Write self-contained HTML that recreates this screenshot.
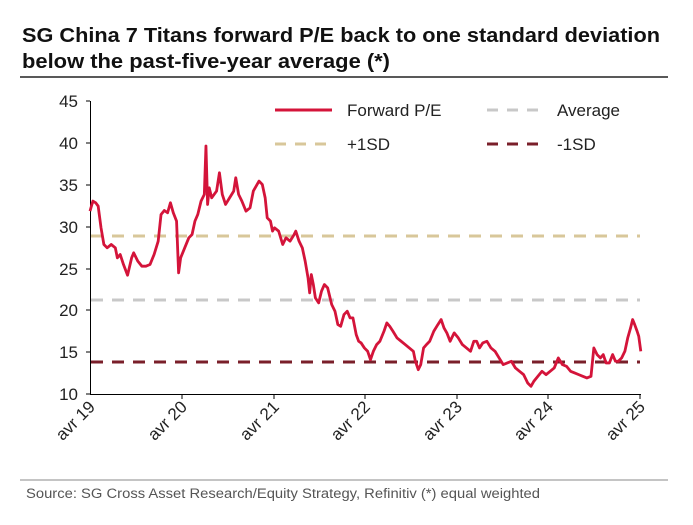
<!DOCTYPE html>
<html><head><meta charset="utf-8"><style>
body{margin:0;background:#fff;width:693px;height:520px;overflow:hidden;font-family:"Liberation Sans",sans-serif}
</style></head><body>
<svg width="693" height="520" xmlns="http://www.w3.org/2000/svg" font-family="Liberation Sans, sans-serif">
<text x="22" y="42" font-size="20" font-weight="bold" fill="#111" textLength="638" lengthAdjust="spacingAndGlyphs">SG China 7 Titans forward P/E back to one standard deviation</text>
<text x="22" y="68" font-size="20" font-weight="bold" fill="#111" textLength="368" lengthAdjust="spacingAndGlyphs">below the past-five-year average (*)</text>
<line x1="20" y1="77" x2="668" y2="77" stroke="#222" stroke-width="1.5"/>
<g stroke-width="3" stroke-dasharray="12,9">
<line x1="91" y1="236" x2="640" y2="236" stroke="#d8c79a"/>
<line x1="91" y1="300" x2="640" y2="300" stroke="#c8c8c8"/>
<line x1="91" y1="362" x2="640" y2="362" stroke="#7a1f2a"/>
</g>
<g stroke="#000" stroke-width="1">
<line x1="90.5" y1="101" x2="90.5" y2="394"/>
<line x1="90" y1="394.5" x2="641" y2="394.5"/>
<line x1="86" y1="101" x2="90" y2="101"/><line x1="86" y1="143" x2="90" y2="143"/><line x1="86" y1="185" x2="90" y2="185"/><line x1="86" y1="227" x2="90" y2="227"/><line x1="86" y1="269" x2="90" y2="269"/><line x1="86" y1="310" x2="90" y2="310"/><line x1="86" y1="352" x2="90" y2="352"/><line x1="86" y1="394" x2="90" y2="394"/>
<line x1="182" y1="394" x2="182" y2="399"/><line x1="274" y1="394" x2="274" y2="399"/><line x1="365" y1="394" x2="365" y2="399"/><line x1="457" y1="394" x2="457" y2="399"/><line x1="548" y1="394" x2="548" y2="399"/><line x1="640" y1="394" x2="640" y2="399"/>
</g>
<g font-size="17" fill="#222" text-anchor="end">
<text x="78" y="107">45</text><text x="78" y="149">40</text><text x="78" y="191">35</text><text x="78" y="233">30</text><text x="78" y="275">25</text><text x="78" y="316">20</text><text x="78" y="358">15</text><text x="78" y="400">10</text>
</g>
<g font-size="17" fill="#222" text-anchor="end">
<text transform="translate(96,408) rotate(-45)">avr 19</text>
<text transform="translate(188,408) rotate(-45)">avr 20</text>
<text transform="translate(280,408) rotate(-45)">avr 21</text>
<text transform="translate(371,408) rotate(-45)">avr 22</text>
<text transform="translate(463,408) rotate(-45)">avr 23</text>
<text transform="translate(554,408) rotate(-45)">avr 24</text>
<text transform="translate(646,408) rotate(-45)">avr 25</text>
</g>
<g transform="translate(90,101) scale(0.4083,0.3337) translate(-148,-50)">
<polyline fill="none" stroke="#d4143a" stroke-width="2.8" vector-effect="non-scaling-stroke" stroke-linejoin="round" points="148,380 155,350 162,355 168,365 175,430 182,480 190,490 200,480 210,490 215,520 222,510 230,540 240,572 250,520 255,505 265,530 275,545 285,545 295,540 305,510 315,470 322,390 330,378 338,385 345,355 352,385 360,410 365,565 370,520 380,490 390,460 398,450 405,410 412,390 420,350 428,330 432,185 436,360 440,310 446,340 452,330 458,320 465,265 472,330 480,360 490,340 500,320 505,280 512,330 520,350 530,380 540,370 548,320 555,305 562,290 570,300 577,340 582,400 590,410 595,440 600,430 610,440 620,480 628,460 638,470 648,450 652,440 660,470 668,490 675,530 682,580 686,625 690,570 695,600 700,640 708,655 715,620 722,600 730,610 740,660 748,680 755,720 762,725 770,690 778,680 785,700 792,700 800,750 806,770 812,775 820,790 828,800 835,825 842,800 850,780 858,770 868,740 875,715 882,725 890,740 900,760 910,770 920,780 930,790 940,800 945,830 952,855 958,840 965,790 972,780 980,770 990,740 1000,720 1008,705 1015,730 1022,745 1030,770 1040,745 1050,760 1060,780 1070,790 1080,800 1088,770 1095,770 1102,790 1110,775 1120,770 1130,790 1140,800 1150,820 1160,840 1170,835 1180,830 1190,850 1200,860 1210,870 1220,895 1228,905 1235,890 1245,875 1255,860 1265,870 1275,860 1285,850 1295,820 1305,840 1315,845 1325,860 1335,865 1345,870 1355,875 1365,880 1375,875 1382,790 1390,810 1398,820 1405,810 1412,835 1420,835 1428,810 1435,830 1442,830 1450,820 1458,800 1465,760 1472,730 1477,705 1482,720 1488,740 1492,755 1497,800"/>
</g>
<line x1="275" y1="110" x2="332" y2="110" stroke="#d4143a" stroke-width="3"/>
<text x="347" y="116" font-size="17" fill="#222">Forward P/E</text>
<line x1="487" y1="110" x2="542" y2="110" stroke="#c8c8c8" stroke-width="3" stroke-dasharray="11,9"/>
<text x="557" y="116" font-size="17" fill="#222">Average</text>
<line x1="275" y1="144" x2="332" y2="144" stroke="#d8c79a" stroke-width="3" stroke-dasharray="11,9"/>
<text x="347" y="150" font-size="17" fill="#222">+1SD</text>
<line x1="487" y1="144" x2="542" y2="144" stroke="#7a1f2a" stroke-width="3" stroke-dasharray="11,9"/>
<text x="557" y="150" font-size="17" fill="#222">-1SD</text>
<line x1="20" y1="480" x2="668" y2="480" stroke="#888" stroke-width="1"/>
<text x="26" y="498" font-size="13.5" fill="#555" textLength="514" lengthAdjust="spacingAndGlyphs">Source: SG Cross Asset Research/Equity Strategy, Refinitiv (*) equal weighted</text>
</svg>
</body></html>
